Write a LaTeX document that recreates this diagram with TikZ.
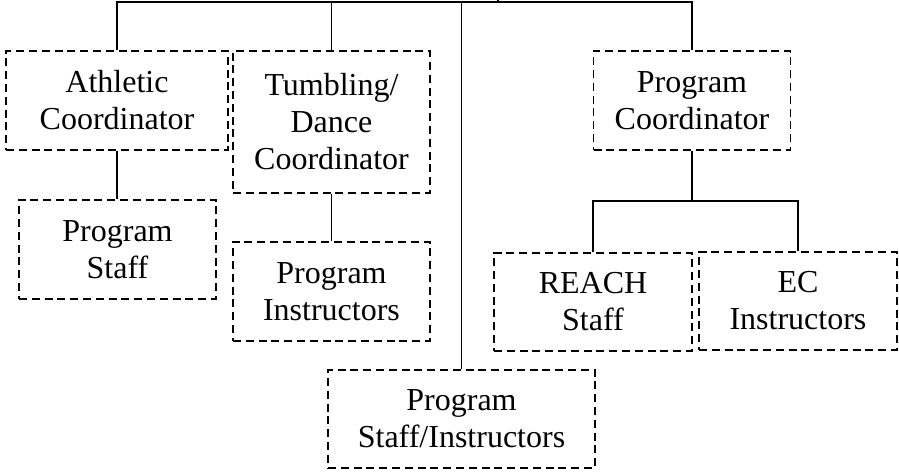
\documentclass[tikz,border=0pt]{standalone}
\usepackage{fontspec}
\setmainfont{Liberation Serif}
\usepackage{tikz}

\tikzset{
	unit/.style={draw, dash pattern=on 6pt off 3.6pt, line width=1.4pt, align=center, inner sep=0pt,
		minimum width=147.75pt, minimum height=74.25pt, font=\fontsize{24}{27.75}\selectfont},
	link/.style={line width=1.4pt}
}

\begin{document}
\begin{tikzpicture}[x=0.75pt, y=-0.75pt]
\useasboundingbox (0,0) rectangle (899,474);
%coordinators
\node[unit, minimum width=166.5pt] (ath) at (117,100.5) {Athletic\\Coordinator};
\node[unit, minimum height=106.5pt] (tum) at (331.5,122) {Tumbling/\\Dance\\Coordinator};
\node[unit] (pcoord) at (692,100.5) {Program\\Coordinator};
%staff
\node[unit] (pstaff) at (117.5,249.5) {Program\\Staff};
\node[unit] (pinst) at (331.5,291.5) {Program\\Instructors};
\node[unit, minimum width=200.25pt, minimum height=73.5pt] (psi) at (461.5,419) {Program\\Staff/Instructors};
\node[unit, minimum width=148.5pt, minimum height=73.5pt] (reach) at (593,302) {REACH\\Staff};
\node[unit, minimum width=148.5pt, minimum height=73.5pt] (ec) at (798,301) {EC\\Instructors};
%lines
\coordinate (parent) at (498,0);
\coordinate (bus) at (117,2);
\coordinate (split) at (692,201);
\draw[link] (ath.north) -- (ath.north |- bus) -- (pcoord.north |- bus) -- (pcoord.north);
\draw[link] (tum.north) -- (tum.north |- bus);
\draw[link] (psi.north) -- (psi.north |- bus);
\draw[link] (parent) -- (parent |- bus);
\draw[link] (ath.south) -- (ath.south |- pstaff.north);
\draw[link] (tum.south) -- (tum.south |- pinst.north);
\draw[link] (pcoord.south) -- (split);
\draw[link] (reach.north) |- (split) -| (ec.north);
\end{tikzpicture}
\end{document}
